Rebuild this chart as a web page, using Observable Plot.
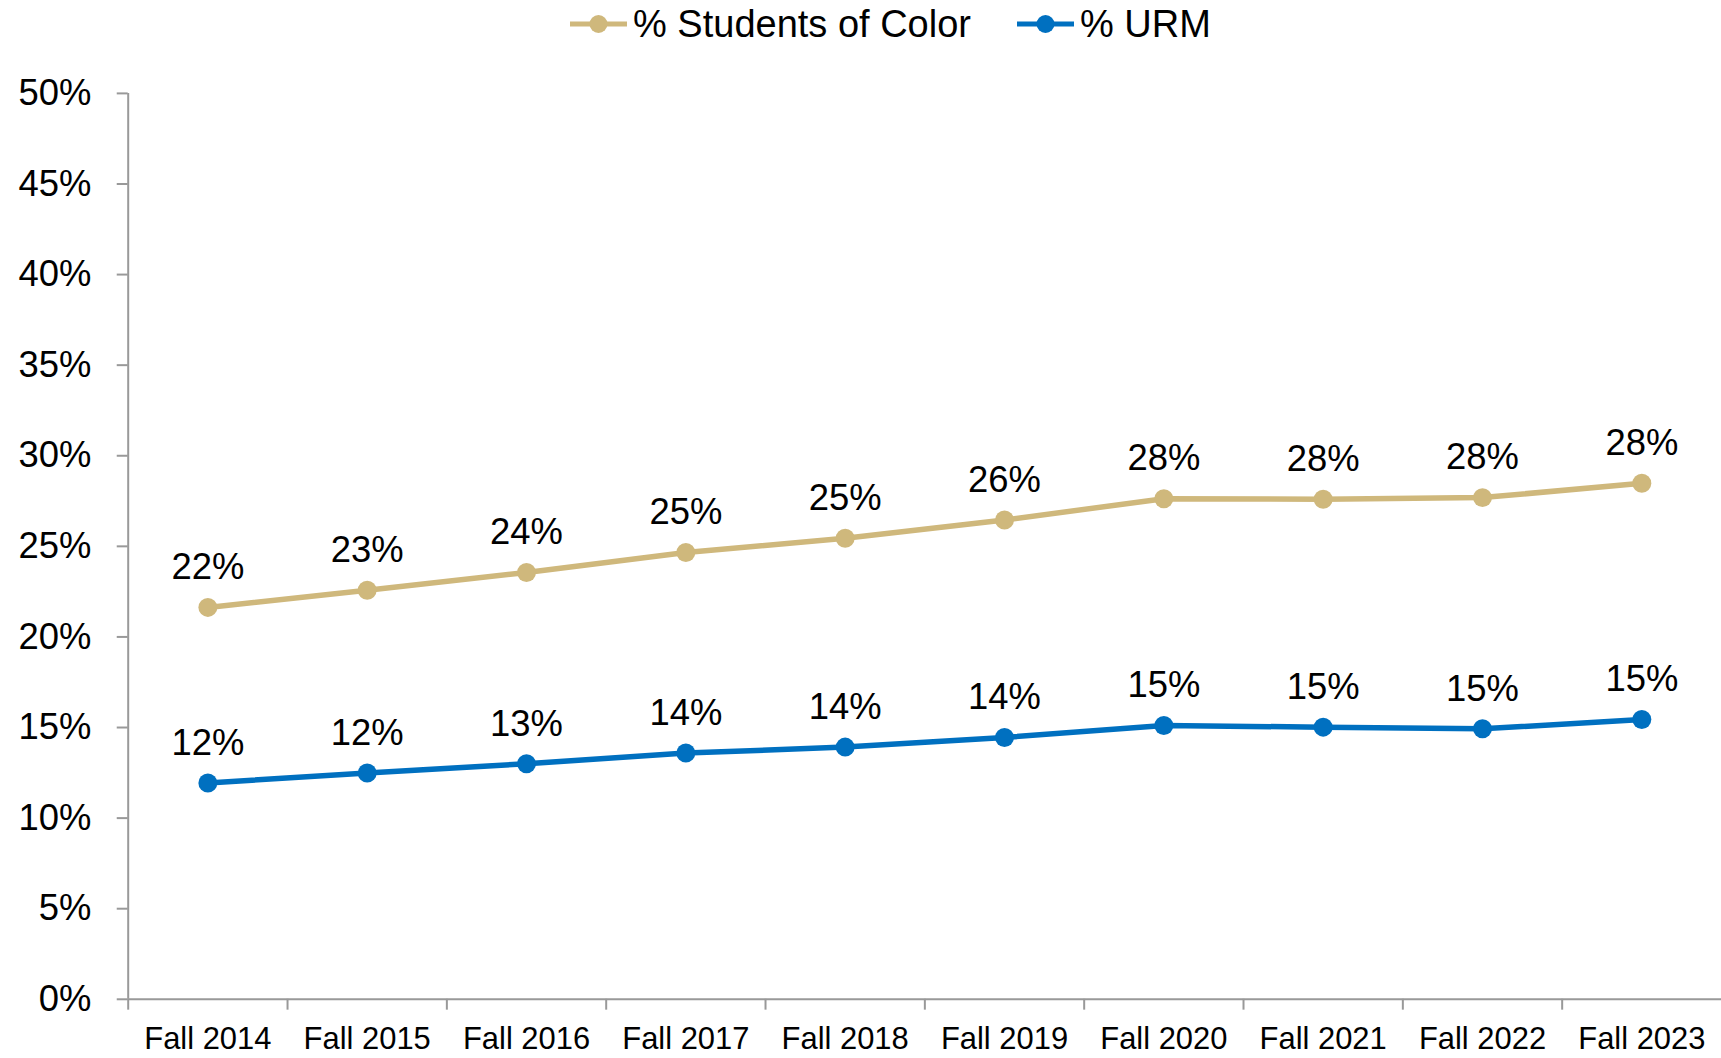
<!DOCTYPE html>
<html><head><meta charset="utf-8">
<script src="https://cdn.jsdelivr.net/npm/d3@7"></script>
<script src="https://cdn.jsdelivr.net/npm/@observablehq/plot@0.6"></script>
<style>
html,body{margin:0;padding:0;background:#fff;overflow:hidden;}
body{font-family:"Liberation Sans",Arial,Helvetica,sans-serif;width:1721px;height:1058px;position:relative;}
#legend{position:absolute;left:570px;top:0;height:48px;display:flex;align-items:center;font-size:38px;color:#000;white-space:nowrap;}
.item{display:flex;align-items:center;}
.item + .item{margin-left:46px;}
.item svg{display:block;margin-right:6px;}
#chart{position:absolute;left:0;top:48px;}
#chart svg{overflow:visible;}
#chart g[aria-label="y-axis tick"]{stroke:#999;stroke-width:2px;}
</style></head><body>
<div id="legend"></div><div id="chart"></div>
<script>
const years = ["Fall 2014","Fall 2015","Fall 2016","Fall 2017","Fall 2018","Fall 2019","Fall 2020","Fall 2021","Fall 2022","Fall 2023"];
const studentsOfColor = [21.63, 22.58, 23.56, 24.66, 25.45, 26.45, 27.63, 27.6, 27.69, 28.48];
const urm = [11.94, 12.49, 13.0, 13.59, 13.92, 14.45, 15.11, 15.02, 14.93, 15.44];
const seriesNames = ["% Students of Color", "% URM"];
const seriesColors = ["#CFB87C", "#0070C0"];
const yTicks = [0, 5, 10, 15, 20, 25, 30, 35, 40, 45, 50];

const rows = [];
[studentsOfColor, urm].forEach((vals, s) => {
  vals.forEach((v, i) => rows.push({year: years[i], value: v, series: seriesNames[s]}));
});

// legend
const legend = document.getElementById("legend");
seriesNames.forEach((name, i) => {
  const item = document.createElement("div");
  item.className = "item";
  item.innerHTML = `<svg width="57" height="22"><line x1="0" y1="11" x2="57" y2="11" stroke="${seriesColors[i]}" stroke-width="5"/><circle cx="28.5" cy="11" r="9" fill="${seriesColors[i]}"/></svg><span>${name}</span>`;
  legend.appendChild(item);
});

const W = 1725, ML = 128;
const bw = (W - ML) / years.length;
const gray = "#999";

const chart = Plot.plot({
  width: W,
  height: 1010,
  marginLeft: ML,
  marginRight: 0,
  marginTop: 45,
  marginBottom: 57,
  style: {fontFamily: "'Liberation Sans', Arial, Helvetica, sans-serif", background: "#fff", color: "#000"},
  x: {type: "band", domain: years, padding: 0, round: false},
  y: {domain: [0, 50]},
  color: {domain: seriesNames, range: seriesColors},
  marks: [
    Plot.ruleY([0], {stroke: gray, strokeWidth: 2}),
    Plot.ruleX([years[0]], {x: d => d, dx: -bw / 2, y1: 0, y2: 50, stroke: gray, strokeWidth: 2}),
    Plot.ruleX(years, {x: d => d, dx: -bw / 2, y1: 0, y2: -0.6, stroke: gray, strokeWidth: 2}),
    Plot.line(rows, {x: "year", y: "value", z: "series", stroke: "series", strokeWidth: 5.5}),
    Plot.dot(rows, {x: "year", y: "value", fill: "series", r: 9.5}),
    Plot.text(rows, {x: "year", y: "value", text: d => Math.round(d.value) + "%", dy: -40, fontSize: 36.5, fill: "#000"}),
    Plot.axisY({ticks: yTicks, tickSize: 11, tickPadding: 26, tickFormat: d => d + "%", fontSize: 36.5, label: null}),
    Plot.axisX({tickSize: 0, tickPadding: 28, fontSize: 31, label: null})
  ]
});
document.getElementById("chart").appendChild(chart);
</script>
</body></html>
